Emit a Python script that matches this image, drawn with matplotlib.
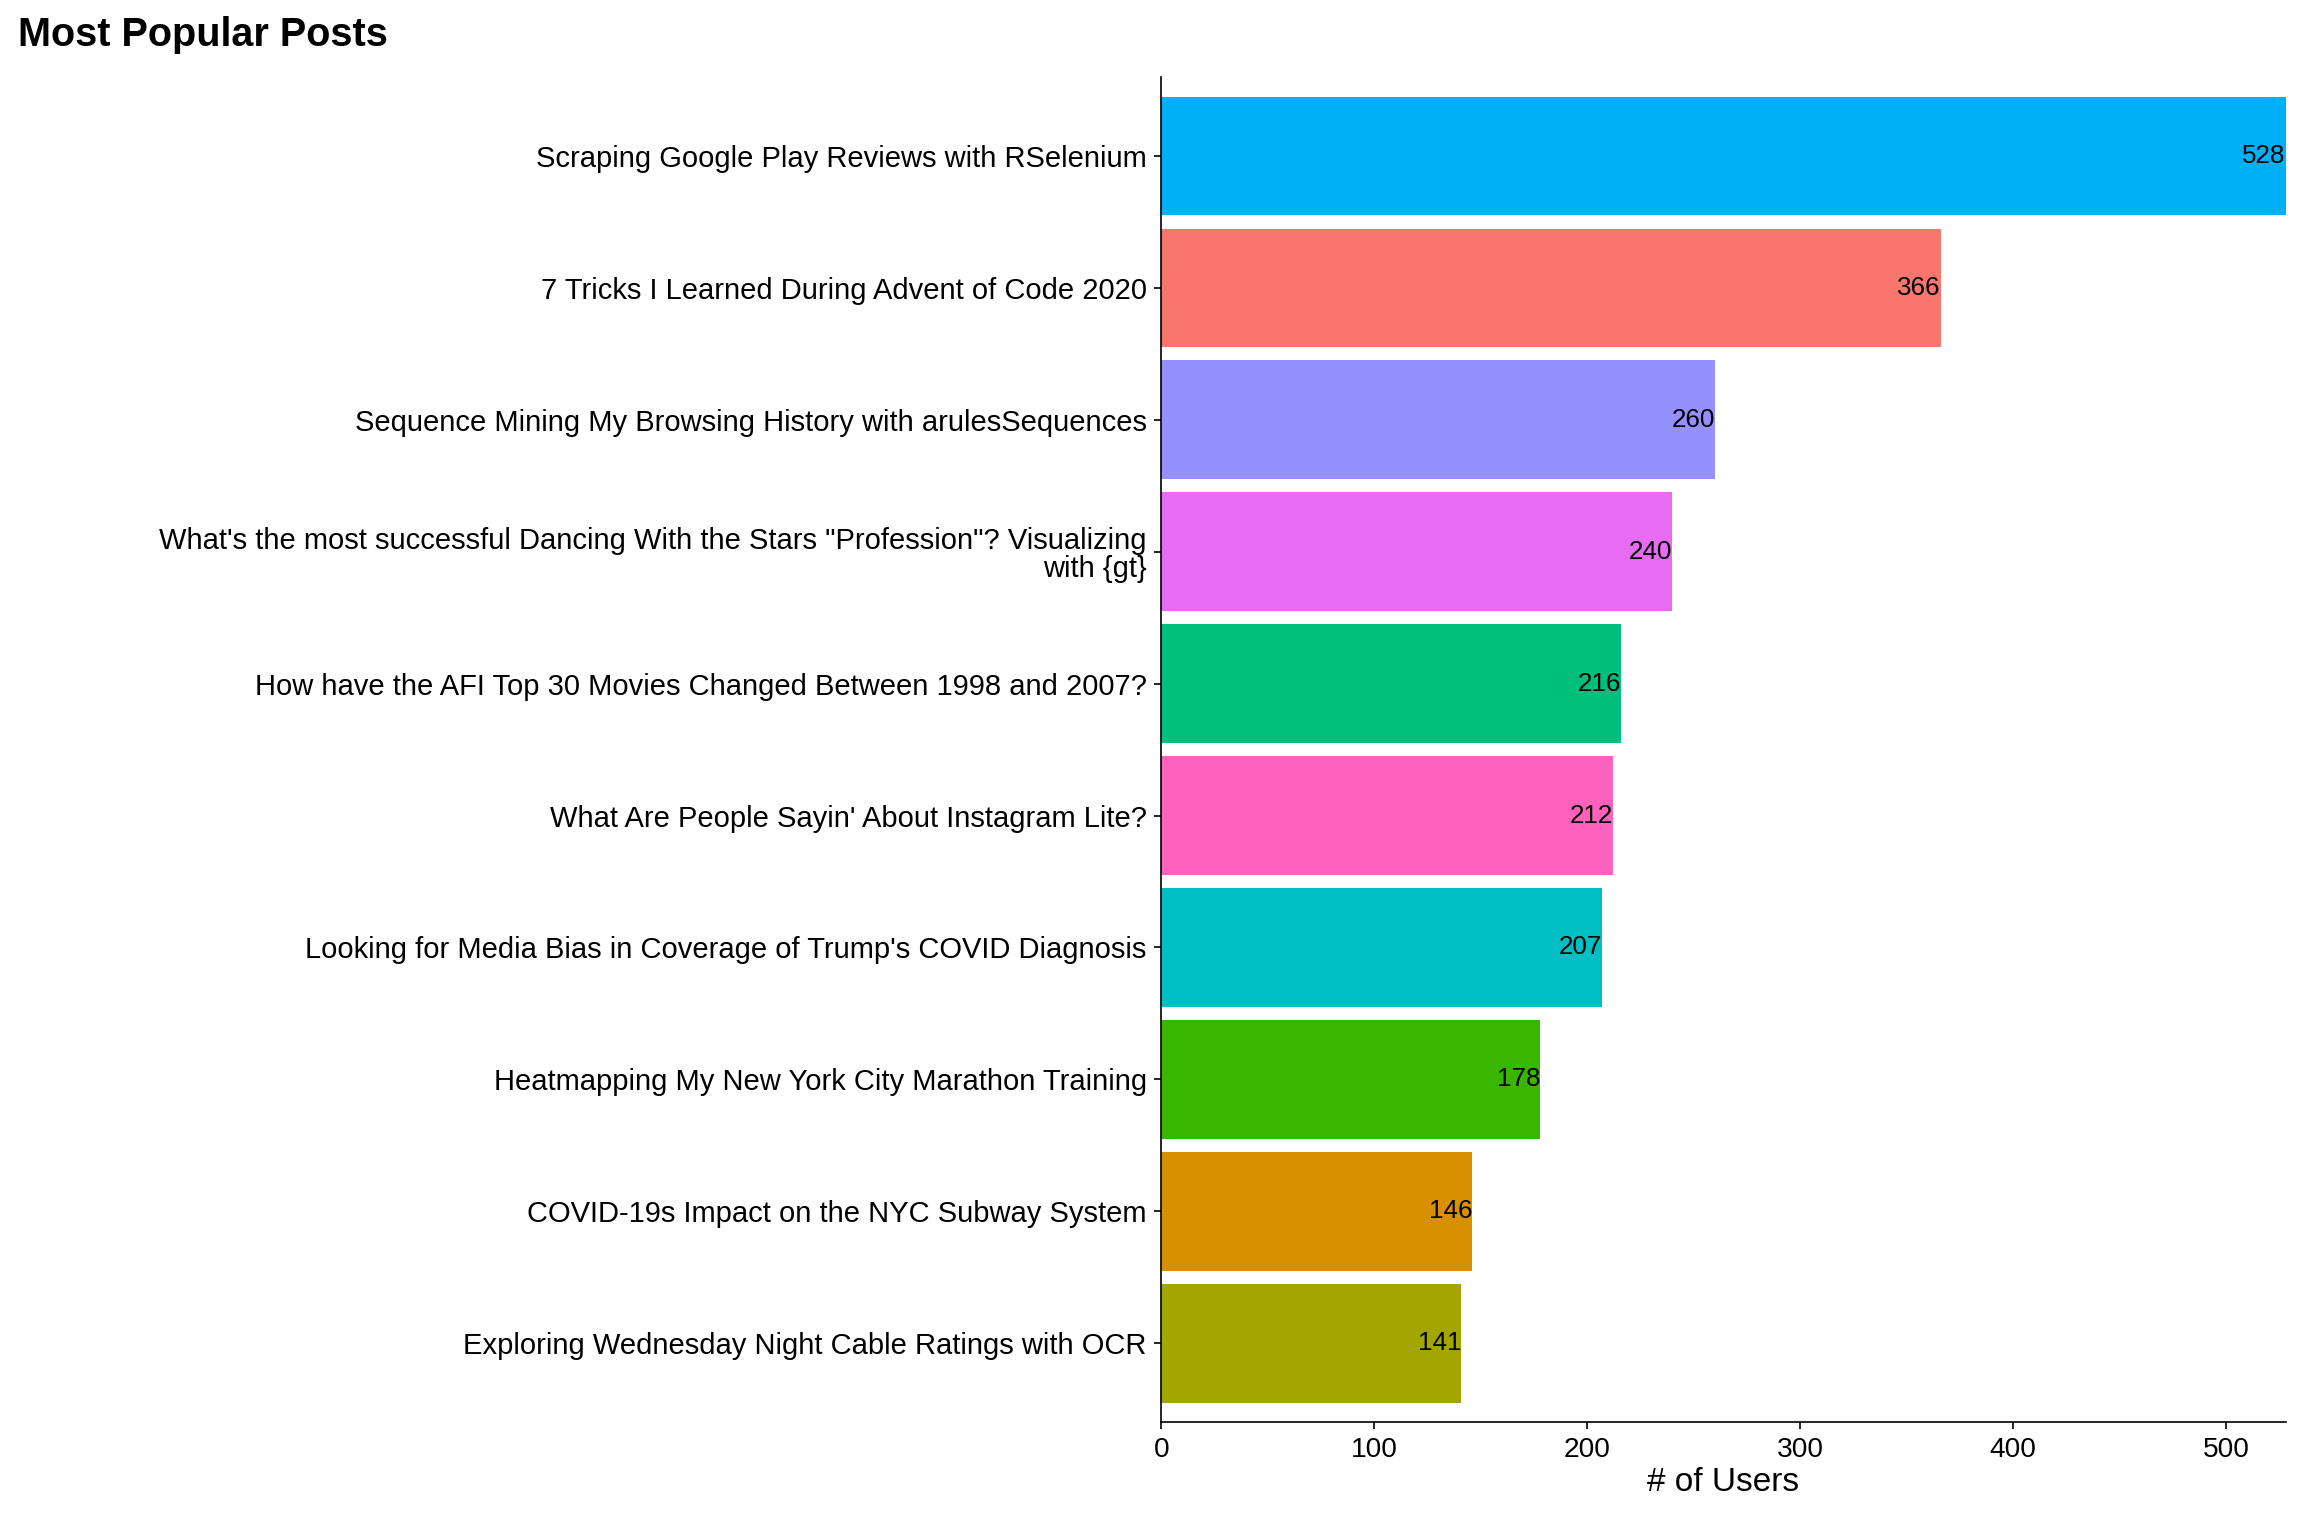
import matplotlib
matplotlib.use("Agg")
import matplotlib.pyplot as plt

posts = ["Scraping Google Play Reviews with RSelenium",
         "7 Tricks I Learned During Advent of Code 2020",
         "Sequence Mining My Browsing History with arulesSequences",
         "What's the most successful Dancing With the Stars \"Profession\"? Visualizing\nwith {gt}",
         "How have the AFI Top 30 Movies Changed Between 1998 and 2007?",
         "What Are People Sayin' About Instagram Lite?",
         "Looking for Media Bias in Coverage of Trump's COVID Diagnosis",
         "Heatmapping My New York City Marathon Training",
         "COVID-19s Impact on the NYC Subway System",
         "Exploring Wednesday Night Cable Ratings with OCR"]
users = [528, 366, 260, 240, 216, 212, 207, 178, 146, 141]
colors = ["#00B0F6", "#F8766D", "#9590FF", "#E76BF3", "#00BF7D",
          "#FF62BC", "#00BFC4", "#39B600", "#D89000", "#A3A500"]

plt.rcParams['font.family'] = ['Liberation Sans', 'DejaVu Sans']
fig = plt.figure(figsize=(15.36, 10.24), dpi=150)
ax = fig.add_axes([0.504, 0.074, 0.488, 0.876])
n = len(posts)
ypos = [n - 1 - i for i in range(n)]
ax.barh(ypos, users, height=0.9, color=colors)
for y, v in zip(ypos, users):
    ax.text(v, y, str(v), ha='right', va='center', fontsize=12.5, color='black')
ax.set_yticks(ypos)
ax.set_yticklabels(posts, fontsize=14, ha='right', multialignment='right', linespacing=1.0)
ax.set_ylim(-0.6, n - 0.4)
ax.set_xlim(0, 528)
ax.set_xticks([0, 100, 200, 300, 400, 500])
ax.tick_params(axis='x', labelsize=13.5)
ax.set_xlabel("# of Users", fontsize=16, labelpad=2)
for s in ['top', 'right']:
    ax.spines[s].set_visible(False)
fig.text(0.008, 0.977, "Most Popular Posts", fontsize=19, fontweight='bold', va='center', ha='left')
fig.savefig("out.png", dpi=150)
